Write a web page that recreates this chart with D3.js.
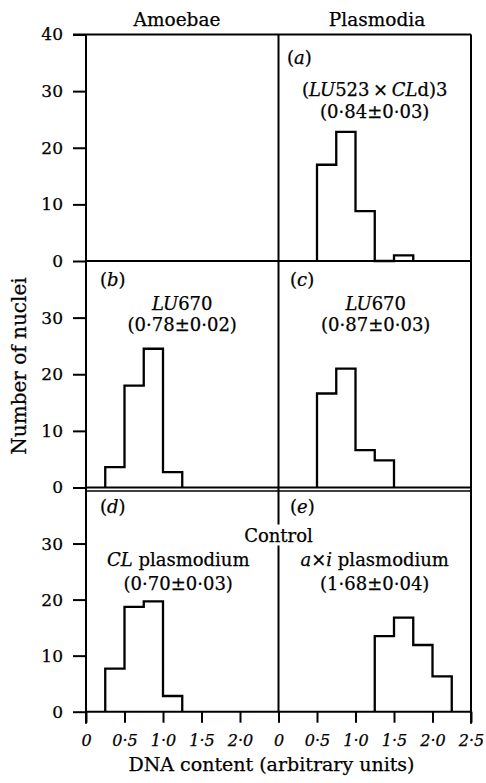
<!DOCTYPE html>
<html>
<head>
<meta charset="utf-8">
<script src="https://cdnjs.cloudflare.com/ajax/libs/d3/7.8.5/d3.min.js"></script>
<style>
  body { margin: 0; background: #fff; }
  text { font-family: "DejaVu Serif", serif; fill: #000; stroke: #000; stroke-width: 0.25; }
</style>
</head>
<body>
<div id="chart"></div>
<script>
// histogram bin edges (DNA content, arbitrary units)
var binEdges = [0, 0.25, 0.5, 0.75, 1.0, 1.25, 1.5, 1.75, 2.0, 2.25, 2.5];

// number of nuclei in each bin
var countsA = [0, 0, 17, 22.8, 8.8, 0, 1, 0, 0, 0];
var countsB = [0, 3.6, 18, 24.5, 2.7, 0, 0, 0, 0, 0];
var countsC = [0, 0, 16.6, 21, 6.6, 4.8, 0, 0, 0, 0];
var countsD = [0, 7.7, 18.7, 19.7, 2.8, 0, 0, 0, 0, 0];
var countsE = [0, 0, 0, 0, 0, 13.5, 16.8, 11.9, 6.3, 0];

var columnTitles = ["Amoebae", "Plasmodia"];
var yTicksTop = [0, 10, 20, 30, 40];
var yTicks = [0, 10, 20, 30];
var xTicksLeft = [0, 0.5, 1.0, 1.5, 2.0];
var xTicksRight = [0, 0.5, 1.0, 1.5, 2.0, 2.5];
var yLabel = "Number of nuclei";
var xLabel = "DNA content (arbitrary units)";

// title pieces: [text, italic?]
var titleA = [["(", 0], ["LU", 1], ["523\u2009×\u2009", 0], ["CL", 1], ["d)3", 0]];
var titleB = [["LU", 1], ["670", 0]];
var titleC = [["LU", 1], ["670", 0]];
var titleD = [["CL", 1], [" plasmodium", 0]];
var titleE = [["a", 1], ["×", 0], ["i", 1], [" plasmodium", 0]];
var meanA = "(0·84±0·03)";
var meanB = "(0·78±0·02)";
var meanC = "(0·87±0·03)";
var meanD = "(0·70±0·03)";
var meanE = "(1·68±0·04)";

// layout
var rowTop = [34.5, 261, 487.5],
    rowBottom = [261, 487.5, 711.7],
    colLeft = [86, 278.5],
    colRight = [278.5, 471];

var svg = d3.select("#chart")
  .append("svg")
    .attr("width", 486)
    .attr("height", 783);

var ys = rowTop.map(function(t, i) {
  return d3.scaleLinear().domain([0, 40]).range([rowBottom[i], t]);
});
var xs = colLeft.map(function(l, i) {
  return d3.scaleLinear().domain([0, 2.5]).range([l, colRight[i]]);
});

var panels = [
  {row: 0, col: 1, letter: "a", counts: countsA, title: titleA, mean: meanA, lx: 8.5, ly: 29.5, ty: 61.5, my: 83.5, cx: 0},
  {row: 1, col: 0, letter: "b", counts: countsB, title: titleB, mean: meanB, lx: 14, ly: 25, ty: 49, my: 70, cx: 0},
  {row: 1, col: 1, letter: "c", counts: countsC, title: titleC, mean: meanC, lx: 11.5, ly: 25, ty: 49, my: 70, cx: 1},
  {row: 2, col: 0, letter: "d", counts: countsD, title: titleD, mean: meanD, lx: 14, ly: 25.5, ty: 78.5, my: 102.5, cx: -4},
  {row: 2, col: 1, letter: "e", counts: countsE, title: titleE, mean: meanE, lx: 11.5, ly: 25.5, ty: 78.5, my: 102.5, cx: 0}
];

var frame = svg.append("g")
  .attr("stroke", "#000")
  .attr("stroke-width", 2)
  .attr("fill", "none");

// frame lines
frame.append("line").attr("x1", colLeft[0]).attr("x2", colLeft[0]).attr("y1", rowTop[0]).attr("y2", rowBottom[2] + 12);
frame.append("line").attr("x1", colRight[1]).attr("x2", colRight[1]).attr("y1", rowTop[0]).attr("y2", rowBottom[2] + 12);
frame.append("line").attr("x1", colRight[0]).attr("x2", colRight[0]).attr("y1", rowTop[0]).attr("y2", rowBottom[2]);
frame.append("line").attr("x1", colLeft[0] - 13).attr("x2", colRight[1]).attr("y1", rowTop[0]).attr("y2", rowTop[0]);
rowBottom.forEach(function(b) {
  frame.append("line").attr("x1", colLeft[0]).attr("x2", colRight[1]).attr("y1", b).attr("y2", b);
});
// double rule above the bottom row
frame.append("line").attr("x1", colLeft[0]).attr("x2", colRight[1])
  .attr("y1", rowTop[2] + 3.5).attr("y2", rowTop[2] + 3.5).attr("stroke-width", 1.5);

// y axes
ys.forEach(function(y, i) {
  var ax = svg.append("g")
    .attr("transform", "translate(" + colLeft[0] + ",0)")
    .call(d3.axisLeft(y).tickValues(i == 0 ? yTicksTop : yTicks).tickSize(13).tickPadding(10));
  ax.select(".domain").remove();
  ax.selectAll("line").attr("stroke", "#000").attr("stroke-width", 2);
  ax.selectAll("text").attr("font-size", 17).attr("font-family", "DejaVu Serif").attr("fill", "#000");
});

// x axes
xs.forEach(function(x, i) {
  var ax = svg.append("g")
    .attr("transform", "translate(0," + rowBottom[2] + ")")
    .call(d3.axisBottom(x).tickValues(i == 0 ? xTicksLeft : xTicksRight).tickSize(11).tickPadding(12)
      .tickFormat(function(d) { return d == 0 ? "0" : d3.format(".1f")(d).replace(".", "·"); }));
  ax.select(".domain").remove();
  ax.selectAll("line").attr("stroke", "#000").attr("stroke-width", 2);
  ax.selectAll("text").attr("font-size", 16).attr("font-style", "italic")
    .attr("font-family", "DejaVu Serif").attr("fill", "#000");
});

// histograms
panels.forEach(function(p) {
  var x = xs[p.col], y = ys[p.row];
  var first = p.counts.findIndex(function(c) { return c > 0; });
  var last = p.counts.length - 1;
  while (p.counts[last] == 0) last--;
  var pts = [[binEdges[first], 0]];
  for (var i = first; i <= last; i++) {
    pts.push([binEdges[i], p.counts[i]]);
    pts.push([binEdges[i + 1], p.counts[i]]);
  }
  pts.push([binEdges[last + 1], 0]);
  svg.append("path")
    .datum(pts)
    .attr("fill", "none")
    .attr("stroke", "#000")
    .attr("stroke-width", 2.3)
    .attr("d", d3.line()
      .x(function(d) { return x(d[0]); })
      .y(function(d) { return y(d[1]); })
    );

  var top = rowTop[p.row];
  var mid = (colLeft[p.col] + colRight[p.col]) / 2 + p.cx;

  var lt = svg.append("text")
    .attr("x", colLeft[p.col] + p.lx)
    .attr("y", top + p.ly)
    .attr("font-size", 18);
  lt.append("tspan").text("(");
  lt.append("tspan").attr("font-style", "italic").text(p.letter);
  lt.append("tspan").text(")");

  var tt = svg.append("text")
    .attr("x", mid)
    .attr("y", top + p.ty)
    .attr("text-anchor", "middle")
    .attr("font-size", 18);
  p.title.forEach(function(piece) {
    tt.append("tspan").attr("font-style", piece[1] ? "italic" : "normal").text(piece[0]);
  });

  svg.append("text")
    .attr("x", mid)
    .attr("y", top + p.my)
    .attr("text-anchor", "middle")
    .attr("font-size", 18)
    .text(p.mean);
});

// "Control" label sitting over the divider
var ctrl = svg.append("text")
  .attr("x", colRight[0])
  .attr("y", rowTop[2] + 54)
  .attr("text-anchor", "middle")
  .attr("font-size", 18)
  .text("Control");
var bb = ctrl.node().getBBox();
svg.insert("rect", function() { return ctrl.node(); })
  .attr("x", bb.x - 2).attr("y", bb.y)
  .attr("width", bb.width + 4).attr("height", bb.height)
  .attr("fill", "#fff");

// column titles
svg.append("text").attr("x", 177).attr("y", 26).attr("text-anchor", "middle")
  .attr("font-size", 18.5).text(columnTitles[0]);
svg.append("text").attr("x", 377).attr("y", 26).attr("text-anchor", "middle")
  .attr("font-size", 18.5).text(columnTitles[1]);

// axis titles
svg.append("text")
  .attr("transform", "translate(26,366) rotate(-90)")
  .attr("text-anchor", "middle")
  .attr("font-size", 20)
  .text(yLabel);
svg.append("text")
  .attr("x", 271.5).attr("y", 771)
  .attr("text-anchor", "middle")
  .attr("font-size", 19)
  .text(xLabel);
</script>
</body>
</html>
